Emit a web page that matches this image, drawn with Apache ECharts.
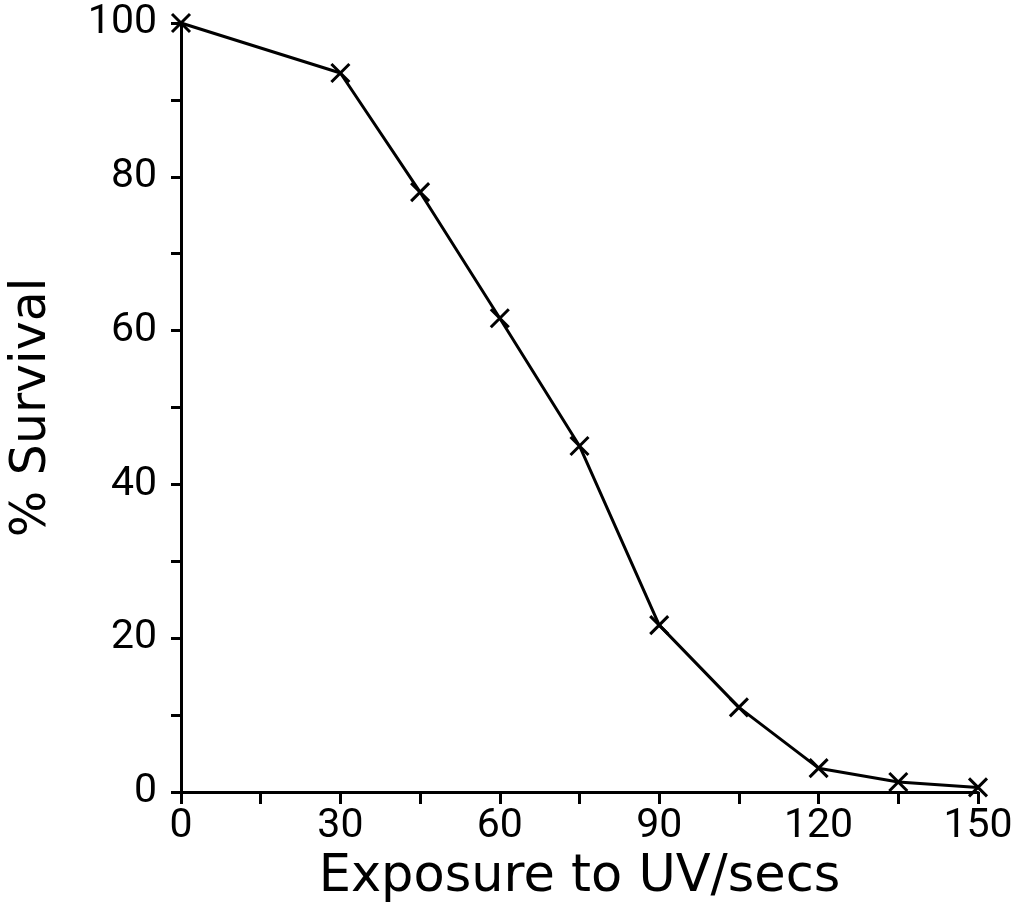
<!DOCTYPE html>
<html>
<head>
<meta charset="utf-8">
<style>
  html, body { margin: 0; padding: 0; background: #fff; }
  #chart { width: 1020px; height: 910px; }
</style>
<script src="https://cdn.jsdelivr.net/npm/echarts@6/dist/echarts.min.js"></script>
</head>
<body>
<div id="chart"></div>
<script>
// UV exposure time (seconds) and percentage of cells surviving
const exposureSecs = [0, 30, 45, 60, 75, 90, 105, 120, 135, 150];
const survivalPct = [100, 93.5, 78, 61.6, 45, 21.7, 11, 3.1, 1.3, 0.6];

const LABEL_FONT = 'Roboto, "DejaVu Sans", sans-serif';
const TITLE_FONT = '"DejaVu Sans", sans-serif';
const INK = '#000';

const chart = echarts.init(document.getElementById('chart'), null, { renderer: 'canvas' });

const points = exposureSecs.map((x, i) => [x, survivalPct[i]]);

chart.setOption({
  backgroundColor: '#fff',
  animation: false,
  grid: { left: 181, right: 42, top: 23, bottom: 118, containLabel: false },
  xAxis: {
    type: 'value',
    min: 0, max: 150, interval: 15,
    name: 'Exposure to UV/secs',
    nameLocation: 'middle',
    nameGap: 56,
    nameTextStyle: { fontFamily: TITLE_FONT, fontSize: 51, color: INK },
    axisLine: { show: true, onZero: false, lineStyle: { color: INK, width: 3 } },
    axisTick: { show: true, inside: false, length: 12, lineStyle: { color: INK, width: 3 } },
    axisLabel: {
      margin: 14, fontFamily: LABEL_FONT, fontSize: 41, color: INK,
      formatter: v => (v % 30 === 0 ? String(v) : '')
    },
    splitLine: { show: false }
  },
  yAxis: {
    type: 'value',
    min: 0, max: 100, interval: 10,
    name: '% Survival',
    nameLocation: 'middle',
    nameRotate: 90,
    nameGap: 124,
    nameTextStyle: { fontFamily: TITLE_FONT, fontSize: 49, color: INK },
    axisLine: { show: true, onZero: false, lineStyle: { color: INK, width: 3 } },
    axisTick: { show: true, inside: false, length: 10, lineStyle: { color: INK, width: 3 } },
    axisLabel: {
      margin: 24, fontFamily: LABEL_FONT, fontSize: 41, color: INK,
      formatter: v => (v % 20 === 0 ? String(v) : '')
    },
    splitLine: { show: false }
  },
  series: [{
    type: 'line',
    data: points,
    symbol: 'path://M0,0 L10,10 M10,0 L0,10',
    symbolSize: 18,
    showAllSymbol: true,
    clip: false,
    lineStyle: { color: INK, width: 3 },
    itemStyle: { color: 'rgba(0,0,0,0)', borderColor: INK, borderWidth: 3 }
  }]
});
</script>
</body>
</html>
